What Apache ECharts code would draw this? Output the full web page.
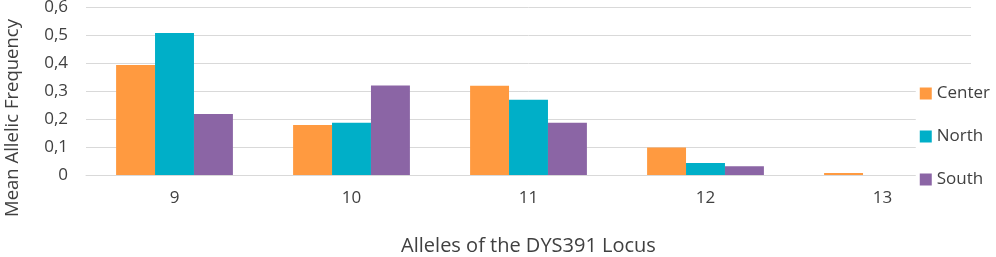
<!DOCTYPE html>
<html>
<head>
<meta charset="utf-8">
<script src="https://cdn.jsdelivr.net/npm/echarts@6/dist/echarts.min.js"></script>
<style>
  html, body { margin: 0; padding: 0; background: #fff; }
  #chart { width: 996px; height: 257px; }
</style>
</head>
<body>
<div id="chart"></div>
<script>
const alleles = ['9', '10', '11', '12', '13'];
const center = [0.393, 0.179, 0.319, 0.098, 0.007];
const north = [0.507, 0.187, 0.269, 0.043, 0];
const south = [0.218, 0.32, 0.187, 0.031, 0];
const yTicks = [0, 0.1, 0.2, 0.3, 0.4, 0.5, 0.6];

const font = 'Open Sans';
const textColor = '#404040';
const colors = ['#FF9A40', '#00AFC8', '#8B65A5'];

const chart = echarts.init(document.getElementById('chart'));

const bar = (name, data) => ({
  name,
  type: 'bar',
  data,
  barGap: '0%',
  barCategoryGap: '34%',
});

chart.setOption({
  animation: false,
  color: colors,
  textStyle: { fontFamily: font },
  grid: { left: 86, right: 25, top: 7, bottom: 82, outerBoundsMode: 'none' },
  // y axis title sits lower than the plot centre in the original
  graphic: [{
    type: 'text',
    x: 13,
    y: 118,
    rotation: Math.PI / 2,
    style: {
      text: 'Mean Allelic Frequency',
      fontFamily: font,
      fontSize: 18.5,
      fill: textColor,
      align: 'center',
      verticalAlign: 'middle',
    },
  }],
  legend: {
    orient: 'vertical',
    right: 2,
    top: 83,
    itemGap: 26,
    itemWidth: 12,
    itemHeight: 12,
    icon: 'rect',
    backgroundColor: '#fff',
    padding: [2, 4, 2, 4],
    textStyle: { fontFamily: font, fontSize: 17, color: textColor },
    data: ['Center', 'North', 'South'],
  },
  xAxis: {
    type: 'category',
    data: alleles,
    name: 'Alleles of the DYS391 Locus',
    nameLocation: 'middle',
    nameGap: 61,
    nameTextStyle: { fontFamily: font, fontSize: 20, color: textColor },
    axisLine: { show: true, lineStyle: { color: '#d9d9d9' } },
    axisTick: { show: false },
    axisLabel: { margin: 15, fontFamily: font, fontSize: 17, color: textColor },
  },
  yAxis: {
    type: 'value',
    min: 0,
    max: 0.6,
    interval: 0.1,
    axisLine: { show: false },
    axisTick: { show: false },
    splitLine: { lineStyle: { color: '#d9d9d9', width: 1 } },
    axisLabel: {
      margin: 18,
      fontFamily: font,
      fontSize: 17,
      color: textColor,
      formatter: v => {
        const t = yTicks.find(x => Math.abs(x - v) < 1e-9);
        return t === 0 ? '0' : String(t).replace('.', ',');
      },
    },
  },
  series: [
    bar('Center', center),
    bar('North', north),
    bar('South', south),
  ],
});
</script>
</body>
</html>
